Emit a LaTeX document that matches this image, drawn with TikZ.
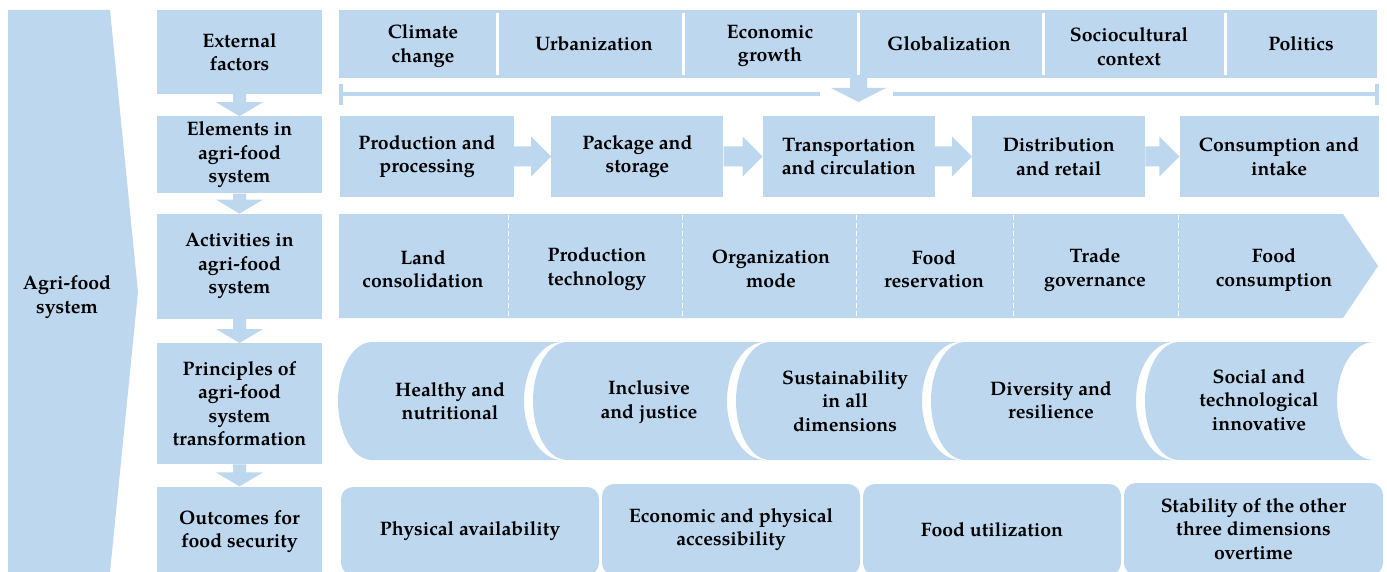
\documentclass[tikz,border=0pt]{standalone}
\usepackage{fontspec}
\setmainfont{texgyrepagella}[Extension=.otf, UprightFont=*-regular, BoldFont=*-bold, ItalicFont=*-italic, BoldItalicFont=*-bolditalic]
\usetikzlibrary{positioning, calc}

\definecolor{boxblue}{HTML}{BDD7EE}

% block arrow pointing down, from the bottom of #1 to the top of #2
\newcommand{\downblock}[2]{%
  \fill[boxblue] ($(#1.south)+(-6.5,0)$) -- ($(#1.south)+(6.5,0)$)
    -- ($(#2.north)+(6.5,-14)$) -- ($(#2.north)+(23.5,-14)$) -- (#2.north)
    -- ($(#2.north)+(-23.5,-14)$) -- ($(#2.north)+(-6.5,-14)$) -- cycle;}
% block arrow pointing right, from the right side of #1 to the left side of #2
\newcommand{\rightblock}[2]{%
  \fill[boxblue] ($(#1.east)+(0,-10)$) -- ($(#2.west)+(-20,-10)$)
    -- ($(#2.west)+(-20,-20)$) -- (#2.west) -- ($(#2.west)+(-20,20)$)
    -- ($(#2.west)+(-20,10)$) -- ($(#1.east)+(0,10)$) -- cycle;}
% one cylinder of the principles row, top corners at x=#1 (left) and x=#2 (right)
\newcommand{\cylinder}[3]{%
  \fill[boxblue] (#1,342) -- (#2,342)
    arc[start angle=270, end angle=90, x radius=#3, y radius=59]
    -- (#1,460) arc[start angle=90, end angle=270, x radius=34, y radius=59] -- cycle;}

\begin{document}
\begin{tikzpicture}[x=1bp, y=-1bp,
    txt/.style={align=center, inner sep=0pt, text=black,
      font=\fontsize{19.5bp}{23.5bp}\selectfont\bfseries},
    colbox/.style={txt, fill=boxblue, minimum width=165bp},
    elembox/.style={txt, fill=boxblue, minimum height=81bp},
    outbox/.style={txt, fill=boxblue, rounded corners=12bp, minimum width=258bp},
    divider/.style={white, line width=3bp},
    dashline/.style={white, line width=1bp, dash pattern=on 5bp off 3bp},
    bracket/.style={boxblue, line width=3.5bp}]
  \useasboundingbox (0,0) rectangle (1387,572);

  % agri-food system
  \fill[boxblue] (8,10) -- (110,10) -- (138,292) -- (110,572) -- (8,572) -- cycle;
  \node[txt] (agri) at (67,297) {Agri-food\\system};

  % left column
  \node[colbox, minimum height=84bp] (ext) at (239.5,52) {External\\factors};
  \node[colbox, minimum height=77bp] (elem) [below=22bp of ext] {Elements in\\agri-food\\system};
  \node[colbox, minimum height=105bp] (act) [below=20bp of elem] {Activities in\\agri-food\\system};
  \node[colbox, minimum height=121bp] (prin) [below=24bp of act] {Principles of\\agri-food\\system\\transformation};
  \node[colbox, minimum height=90bp] (outc) [below=22bp of prin] {Outcomes for\\food security};

  \downblock{ext}{elem}
  \downblock{elem}{act}
  \downblock{act}{prin}
  \downblock{prin}{outc}

  % external factors
  \node[fill=boxblue, inner sep=0pt, minimum width=1038bp, minimum height=68bp] (factors) at (858,44) {};
  \foreach \x in {497,683,858,1043,1225}
    \draw[divider] (\x,13) -- (\x,75);
  \node[txt] (climate) at (423,46) {Climate\\change};
  \node[txt] (urban) at (594,44) {Urbanization};
  \node[txt] (growth) at (770,46) {Economic\\growth};
  \node[txt] (glob) at (949,44) {Globalization};
  \node[txt] (socio) at (1129,46.5) {Sociocultural\\context};
  \node[txt] (politics) at (1301,44) {Politics};

  \draw[bracket] (341,94) -- (820,94);
  \draw[bracket] (893,94) -- (1377,94);
  \draw[bracket] (341,84) -- (341,105);
  \draw[bracket] (1377,84) -- (1377,105);

  % elements
  \node[elembox, minimum width=174bp] (prod) at (427,156.5) {Production and\\processing};
  \node[elembox, minimum width=172bp] (pack) [right=37bp of prod] {Package and\\storage};
  \node[elembox, minimum width=172bp] (trans) [right=39bp of pack] {Transportation\\and circulation};
  \node[elembox, minimum width=173bp] (dist) [right=37bp of trans] {Distribution\\and retail};
  \node[elembox, minimum width=199bp] (cons) [right=34bp of dist] {Consumption and\\intake};

  \coordinate (fetip) at (858.5,102);
  \fill[boxblue] (850,78) -- (867,78) -- ($(fetip)+(8.5,-14)$) -- ($(fetip)+(27.5,-14)$) -- (fetip)
    -- ($(fetip)+(-27.5,-14)$) -- ($(fetip)+(-8.5,-14)$) -- cycle;

  \rightblock{prod}{pack}
  \rightblock{pack}{trans}
  \rightblock{trans}{dist}
  \rightblock{dist}{cons}

  % activities
  \fill[boxblue] (339,214) -- (1343,214) -- (1378,266) -- (1343,318) -- (339,318) -- cycle;
  \foreach \x in {508,682,856,1013,1178}
    \draw[dashline] (\x,215) -- (\x,317);
  \node[txt] (land) at (423,269) {Land\\consolidation};
  \node[txt] (tech) at (597,269) {Production\\technology};
  \node[txt] (orga) at (771,269) {Organization\\mode};
  \node[txt] (reserv) at (934,269) {Food\\reservation};
  \node[txt] (trade) at (1095,270) {Trade\\governance};
  \node[txt] (consum) at (1274,270) {Food\\consumption};

  % principles
  \cylinder{372}{562}{38}
  \cylinder{567}{765}{38}
  \cylinder{770}{960}{38}
  \cylinder{965}{1174}{38}
  \cylinder{1179}{1374}{37}
  \node[txt] (health) at (450,401) {Healthy and\\nutritional};
  \node[txt] (incl) at (649,402) {Inclusive\\and justice};
  \node[txt] (sust) at (845,401) {Sustainability\\in all\\dimensions};
  \node[txt] (divers) at (1051,400) {Diversity and\\resilience};
  \node[txt] (social) at (1259,400) {Social and\\technological\\innovative};

  % outcomes
  \node[outbox, minimum height=88bp] (avail) at (470,531) {Physical availability};
  \node[outbox, minimum height=91bp] (access) at (731,529.5) {Economic and physical\\accessibility};
  \node[outbox, minimum height=91bp] (util) at (992,529.5) {Food utilization};
  \node[outbox, minimum height=92bp, minimum width=259bp] (stab) at (1253.5,529) {Stability of the other\\three dimensions\\overtime};
\end{tikzpicture}
\end{document}
